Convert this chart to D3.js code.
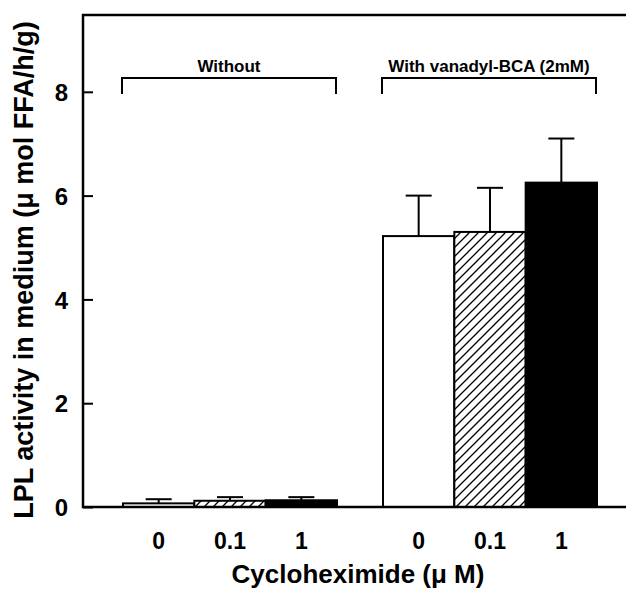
<!DOCTYPE html>
<html>
<head>
<meta charset="utf-8">
<script src="https://cdn.jsdelivr.net/npm/d3@7"></script>
<style>
  body { margin: 0; background: #fff; }
  text { font-family: "Liberation Sans", Arial, sans-serif; font-weight: bold; fill: #000; }
</style>
</head>
<body>
<div id="chart-area"></div>
<script>
// data
const groups = ["Without", "With vanadyl-BCA (2mM)"]
const doses = ["0", "0.1", "1"]
const meanWithout = [0.07, 0.12, 0.13]
const errWithout = [0.08, 0.07, 0.06]
const meanWith = [5.22, 5.3, 6.25]
const errWith = [0.78, 0.85, 0.85]
const yTicks = [0, 2, 4, 6, 8]

const W = 626, H = 591
const MARGIN = { LEFT: 83, TOP: 15, BOTTOM: 84 }
const AXIS_Y = H - MARGIN.BOTTOM

const svg = d3.select("#chart-area").append("svg")
  .attr("width", W)
  .attr("height", H)

// hatch pattern for the 0.1 bars
const pat = svg.append("defs").append("pattern")
  .attr("id", "hatch")
  .attr("patternUnits", "userSpaceOnUse")
  .attr("width", 9)
  .attr("height", 9)
pat.append("rect").attr("width", 9).attr("height", 9).attr("fill", "#fff")
pat.append("path")
  .attr("d", "M-1,10 L10,-1 M-1,1 L1,-1 M8,10 L10,8")
  .attr("stroke", "#000")
  .attr("stroke-width", 1.3)

const fills = ["#fff", "url(#hatch)", "#000"]

const data = []
groups.forEach((g, gi) => {
  const m = gi === 0 ? meanWithout : meanWith
  const e = gi === 0 ? errWithout : errWith
  doses.forEach((d, di) => {
    data.push({ group: g, dose: d, i: di, mean: m[di], err: e[di] })
  })
})

const y = d3.scaleLinear()
  .domain([0, 9.48])
  .range([AXIS_Y, MARGIN.TOP])

const x0 = d3.scaleBand()
  .domain(groups)
  .range([123, 597])
  .paddingInner(46 / 260)
  .paddingOuter(0)

const x1 = d3.scaleBand()
  .domain(doses)
  .range([0, x0.bandwidth()])
  .padding(0)

// bars
svg.append("g").selectAll("rect")
  .data(data)
  .enter().append("rect")
    .attr("x", d => x0(d.group) + x1(d.dose))
    .attr("y", d => y(d.mean))
    .attr("width", x1.bandwidth())
    .attr("height", d => AXIS_Y - y(d.mean))
    .attr("fill", d => fills[d.i])
    .attr("stroke", "#000")
    .attr("stroke-width", 2)

// error bars (upper only)
const eb = svg.append("g").attr("stroke", "#000").attr("stroke-width", 2)
data.forEach(d => {
  const cx = x0(d.group) + x1(d.dose) + x1.bandwidth() / 2
  eb.append("line")
    .attr("x1", cx).attr("x2", cx)
    .attr("y1", y(d.mean)).attr("y2", y(d.mean + d.err))
  eb.append("line")
    .attr("x1", cx - 13).attr("x2", cx + 13)
    .attr("y1", y(d.mean + d.err)).attr("y2", y(d.mean + d.err))
})

// frame: left axis, top line, bottom axis
svg.append("path")
  .attr("d", `M${W},${MARGIN.TOP} H${MARGIN.LEFT} V${AXIS_Y} H${W}`)
  .attr("fill", "none")
  .attr("stroke", "#000")
  .attr("stroke-width", 2.5)

// y axis, ticks pointing inward
const yAxisCall = d3.axisRight(y)
  .tickValues(yTicks)
  .tickSize(10)
  .tickFormat(d => d)
const yAxis = svg.append("g")
  .attr("transform", `translate(${MARGIN.LEFT}, 0)`)
  .call(yAxisCall)
yAxis.select(".domain").remove()
yAxis.selectAll("line").attr("stroke-width", 2)
yAxis.selectAll("text")
  .attr("x", -15)
  .attr("dy", "0.36em")
  .attr("text-anchor", "end")
  .attr("font-size", "24px")

// dose labels under each bar
svg.append("g").selectAll("text")
  .data(data)
  .enter().append("text")
    .attr("x", d => x0(d.group) + x1(d.dose) + x1.bandwidth() / 2)
    .attr("y", 549)
    .attr("text-anchor", "middle")
    .attr("font-size", "23px")
    .text(d => d.dose)

// group brackets
const br = svg.append("g")
groups.forEach(g => {
  const a = x0(g) - 1, b = x0(g) + x0.bandwidth() - 1
  br.append("path")
    .attr("d", `M${a},94 V78 H${b} V94`)
    .attr("fill", "none")
    .attr("stroke", "#000")
    .attr("stroke-width", 2)
  br.append("text")
    .attr("x", (a + b) / 2)
    .attr("y", 72)
    .attr("text-anchor", "middle")
    .attr("font-size", "17px")
    .text(g)
})

// axis titles
svg.append("text")
  .attr("x", 358)
  .attr("y", 583)
  .attr("text-anchor", "middle")
  .attr("font-size", "26px")
  .text("Cycloheximide (μ M)")

svg.append("text")
  .attr("x", -270)
  .attr("y", 33)
  .attr("text-anchor", "middle")
  .attr("transform", "rotate(-90)")
  .attr("font-size", "27px")
  .text("LPL activity in medium (μ mol FFA/h/g)")
</script>
</body>
</html>
